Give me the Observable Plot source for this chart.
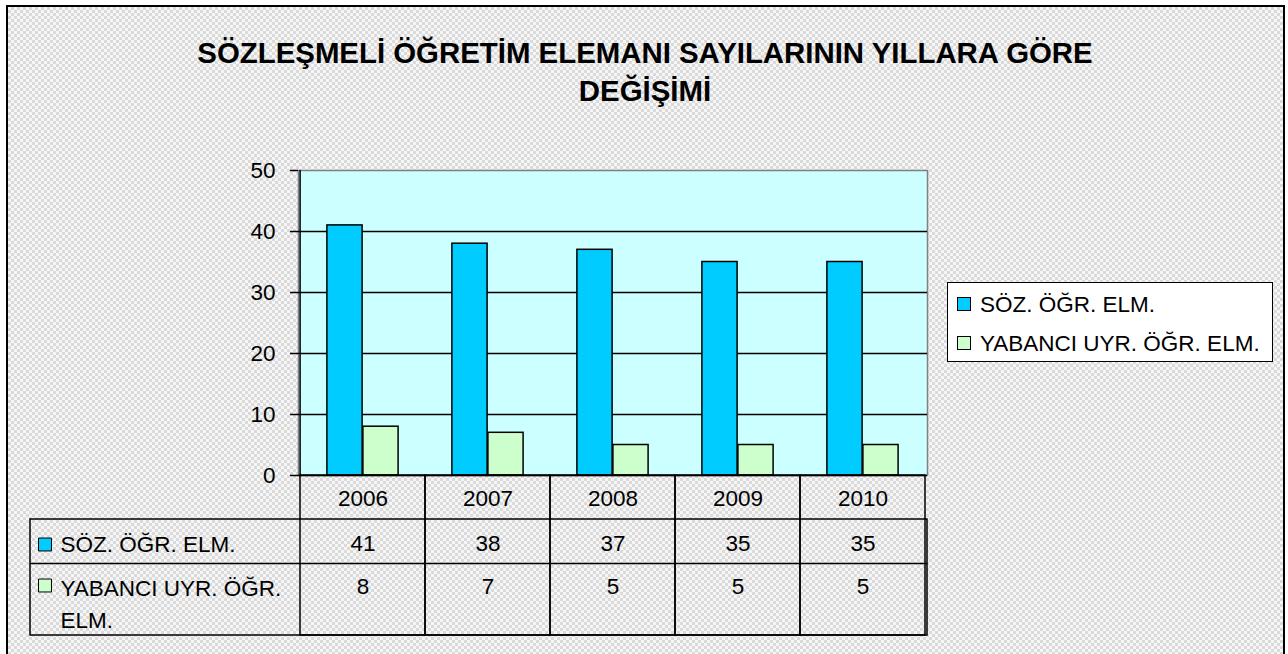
<!DOCTYPE html>
<html><head><meta charset="utf-8">
<script src="https://cdn.jsdelivr.net/npm/d3@7"></script>
<script src="https://cdn.jsdelivr.net/npm/@observablehq/plot@0.6"></script>
<style>
html,body{margin:0;padding:0;background:#fff;}
#wrap{position:relative;width:1288px;height:654px;overflow:hidden;font-family:"Liberation Sans",Arial,sans-serif;}
#bg{position:absolute;left:6px;top:5px;width:1279px;height:670px;box-sizing:border-box;border:2.5px solid #000;
 background:repeating-conic-gradient(#dadada 0 25%, #f6f6f6 0 50%) 0 0/6px 6px;}
#chart{position:absolute;left:0;top:0;}
#legend{position:absolute;left:947px;top:282px;width:326px;height:80px;box-sizing:border-box;border:1.5px solid #000;background:#fff;font-size:22.5px;}
.li{position:absolute;left:9px;height:24px;line-height:24px;white-space:nowrap;}
.sw{display:inline-block;width:12px;height:12px;border:1px solid #000;vertical-align:middle;margin-right:9px;position:relative;top:-2px;}
</style></head>
<body><div id="wrap"><div id="bg"></div><div id="chart"></div><div id="legend"></div></div>
<script>
const years = ["2006", "2007", "2008", "2009", "2010"];
const sozValues = [41, 38, 37, 35, 35];
const yabValues = [8, 7, 5, 5, 5];
const seriesNames = ["SÖZ. ÖĞR. ELM.", "YABANCI UYR. ÖĞR. ELM."];
const rowLabelLines = [["SÖZ. ÖĞR. ELM."], ["YABANCI UYR. ÖĞR.", "ELM."]];
const seriesColors = ["#00CCFF", "#CCFFCC"];
const yTicks = [0, 10, 20, 30, 40, 50];
const gridTicks = [10, 20, 30, 40];
const titleLines = ["SÖZLEŞMELİ ÖĞRETİM ELEMANI SAYILARININ YILLARA GÖRE", "DEĞİŞİMİ"];

const rows = years.flatMap((y, i) => [
  {year: y, series: 0, value: sozValues[i]},
  {year: y, series: 1, value: yabValues[i]}
]);

const W = 1288, H = 654, mL = 298, mR = 361, mT = 170, mB = 179;
const bw = (W - mL - mR) / years.length;
const barW = 36;
const gap = (bw - 2 * barW) / 2;
const tableH = 160;
const FS = 22.5;
const LA = "middle";

const titleDx = 644.5 - (mL + (W - mL - mR) / 2);

const chart = Plot.plot({
  width: W, height: H,
  marginLeft: mL, marginRight: mR, marginTop: mT, marginBottom: mB,
  style: {background: "transparent", fontFamily: "'Liberation Sans', Arial, sans-serif", fontSize: FS + "px", color: "#000", overflow: "visible"},
  x: {type: "band", domain: years, padding: 0, axis: null},
  y: {domain: [0, 50], axis: null},
  marks: [
    Plot.frame({fill: "#CCFFFF", stroke: "#808080", strokeWidth: 1.5}),
    Plot.ruleY(gridTicks, {stroke: "#000", strokeWidth: 1.5}),
    Plot.barY(rows.filter(d => d.series === 0), {x: "year", y: "value", fill: seriesColors[0], stroke: "#000", strokeWidth: 1.5, insetLeft: gap, insetRight: bw - gap - barW}),
    Plot.barY(rows.filter(d => d.series === 1), {x: "year", y: "value", fill: seriesColors[1], stroke: "#000", strokeWidth: 1.5, insetLeft: gap + barW, insetRight: gap}),
    Plot.ruleX([years[0]], {dx: -bw / 2, stroke: "#000", strokeWidth: 1.5}),
    Plot.axisY(yTicks, {tickSize: 8, tickPadding: 15, fontSize: FS, label: null, stroke: "#000", strokeWidth: 1.5}),
    // data table
    Plot.barY(years, {x: d => d, y1: 0, y2: 0, insetBottom: -tableH, fill: "none", stroke: "#000", strokeWidth: 1.5}),
    Plot.rect([0], {y1: 0, y2: 0, insetTop: 44, insetBottom: -tableH, insetLeft: -268, fill: "none", stroke: "#000", strokeWidth: 1.5}),
    Plot.ruleY([0], {dy: 88, insetLeft: -268, stroke: "#000", strokeWidth: 1.5}),
    Plot.ruleY([0], {stroke: "#000", strokeWidth: 1.5}),
    Plot.text(years, {x: d => d, text: d => d, frameAnchor: "bottom", lineAnchor: LA, dy: 23, fontSize: FS}),
    Plot.text(rows.filter(d => d.series === 0), {x: "year", text: d => String(d.value), frameAnchor: "bottom", lineAnchor: LA, dy: 68, fontSize: FS}),
    Plot.text(rows.filter(d => d.series === 1), {x: "year", text: d => String(d.value), frameAnchor: "bottom", lineAnchor: LA, dy: 111.5, fontSize: FS}),
    Plot.text(rowLabelLines[0], {text: d => d, frameAnchor: "bottom-left", lineAnchor: LA, textAnchor: "start", dx: 60 - mL, dy: 69.5, fontSize: FS}),
    Plot.text([rowLabelLines[1][0]], {text: d => d, frameAnchor: "bottom-left", lineAnchor: LA, textAnchor: "start", dx: 60 - mL, dy: 113, fontSize: FS}),
    Plot.text([rowLabelLines[1][1]], {text: d => d, frameAnchor: "bottom-left", lineAnchor: LA, textAnchor: "start", dx: 60 - mL, dy: 145, fontSize: FS}),
    Plot.dot([0], {frameAnchor: "bottom-left", dx: 44.5 - mL, dy: 69, symbol: "square", r: 7.3, fill: seriesColors[0], stroke: "#000", strokeWidth: 1}),
    Plot.dot([0], {frameAnchor: "bottom-left", dx: 44.5 - mL, dy: 110, symbol: "square", r: 7.3, fill: seriesColors[1], stroke: "#000", strokeWidth: 1}),
    // title
    Plot.text([titleLines[0]], {text: d => d, frameAnchor: "top", lineAnchor: LA, dx: titleDx, dy: 53 - mT, fontSize: 29.4, fontWeight: "bold"}),
    Plot.text([titleLines[1]], {text: d => d, frameAnchor: "top", lineAnchor: LA, dx: titleDx, dy: 91.5 - mT, fontSize: 29.4, fontWeight: "bold"})
  ]
});
document.getElementById("chart").appendChild(chart);

const legend = d3.select("#legend");
seriesNames.forEach((name, i) => {
  const item = legend.append("div").attr("class", "li").style("top", (i === 0 ? 10 : 49) + "px");
  item.append("span").attr("class", "sw").style("background", seriesColors[i]);
  item.append("span").text(name);
});
</script>
</body></html>
